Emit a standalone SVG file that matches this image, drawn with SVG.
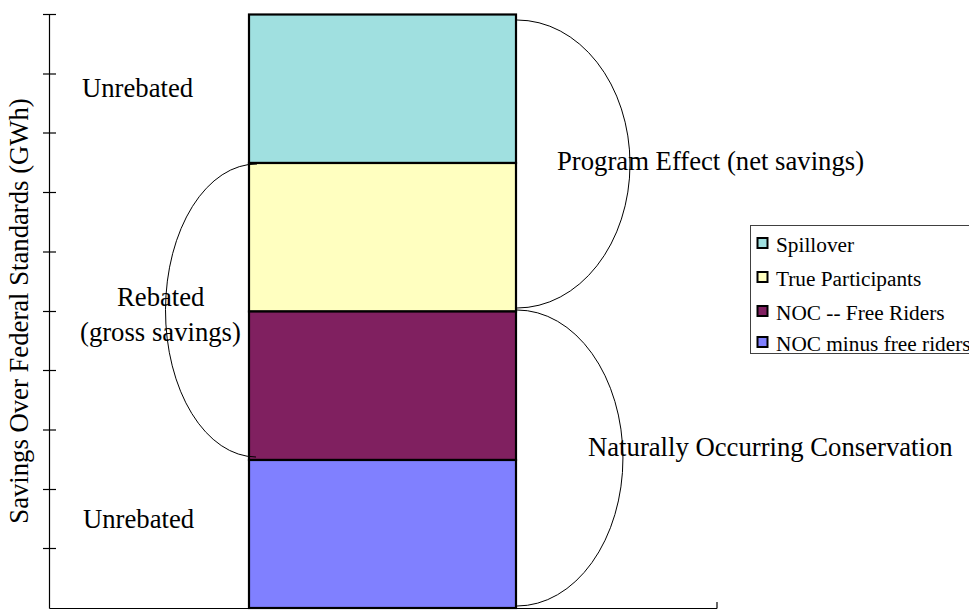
<svg xmlns="http://www.w3.org/2000/svg" width="969" height="610" viewBox="0 0 969 610">
<style>
.lbl{font-family:"Liberation Serif","Times New Roman",serif;font-size:26.7px;fill:#000}
.leg{font-family:"Liberation Serif","Times New Roman",serif;font-size:21.3px;fill:#000}
.seg{stroke:#000;stroke-width:2.2}
.ax{stroke:#000;stroke-width:1.2;fill:none}
.brace{stroke:#000;stroke-width:1;fill:none}
.sw{stroke:#000;stroke-width:2}
</style>
<rect width="969" height="610" fill="#fff"/>
<g id="axes">
<line class="ax" x1="49.5" y1="14" x2="49.5" y2="608.5"/>
<line class="ax" x1="49.5" y1="608.5" x2="717" y2="608.5"/>
<line class="ax" x1="717" y1="602" x2="717" y2="608.5"/>
<g class="ax">
<line x1="43" y1="14.5" x2="56" y2="14.5"/>
<line x1="43" y1="74" x2="56" y2="74"/>
<line x1="43" y1="133" x2="56" y2="133"/>
<line x1="43" y1="192.5" x2="56" y2="192.5"/>
<line x1="43" y1="252" x2="56" y2="252"/>
<line x1="43" y1="311.5" x2="56" y2="311.5"/>
<line x1="43" y1="370.5" x2="56" y2="370.5"/>
<line x1="43" y1="430" x2="56" y2="430"/>
<line x1="43" y1="489.5" x2="56" y2="489.5"/>
<line x1="43" y1="548.5" x2="56" y2="548.5"/>
</g>
<text class="lbl" transform="translate(28,311) rotate(-90)" text-anchor="middle">Savings Over Federal Standards (GWh)</text>
</g>
<g id="bar">
<rect id="spillover" class="seg" x="249" y="14.5" width="267" height="148.5" fill="#A0E0E0"/>
<rect id="true-participants" class="seg" x="249" y="163" width="267" height="148.5" fill="#FFFFC0"/>
<rect id="free-riders" class="seg" x="249" y="311.5" width="267" height="148.5" fill="#802060"/>
<rect id="noc-minus" class="seg" x="249" y="460" width="267" height="148" fill="#8080FF"/>
</g>
<g id="connectors">
<path class="brace" d="M517 20 A113 144 0 0 1 517 308"/>
<path class="brace" d="M517 310 A106 148 0 0 1 517 606"/>
<path class="brace" d="M257 164 A91 146.5 0 0 0 256 457"/>
</g>
<g id="labels">
<text class="lbl" x="82" y="97">Unrebated</text>
<text class="lbl" x="117" y="306">Rebated</text>
<text class="lbl" x="80" y="341">(gross savings)</text>
<text class="lbl" x="83" y="528">Unrebated</text>
<text class="lbl" x="557" y="170">Program Effect (net savings)</text>
<text class="lbl" x="588" y="456">Naturally Occurring Conservation</text>
</g>
<g id="legend">
<rect x="750.5" y="225.5" width="240" height="128" fill="#fff" stroke="#404040" stroke-width="1"/>
<rect class="sw" x="757.5" y="238" width="10" height="10" fill="#A0E0E0"/>
<text class="leg" x="776" y="252" font-family="Liberation Serif, serif">Spillover</text>
<rect class="sw" x="757.5" y="272" width="10" height="10" fill="#FFFFC0"/>
<text class="leg" x="776" y="286" font-family="Liberation Serif, serif">True Participants</text>
<rect class="sw" x="757.5" y="306" width="10" height="10" fill="#802060"/>
<text class="leg" x="776" y="320" font-family="Liberation Serif, serif">NOC -- Free Riders</text>
<rect class="sw" x="757.5" y="337" width="10" height="10" fill="#8080FF"/>
<text class="leg" x="776" y="351" font-family="Liberation Serif, serif">NOC minus free riders</text>
</g>
</svg>
